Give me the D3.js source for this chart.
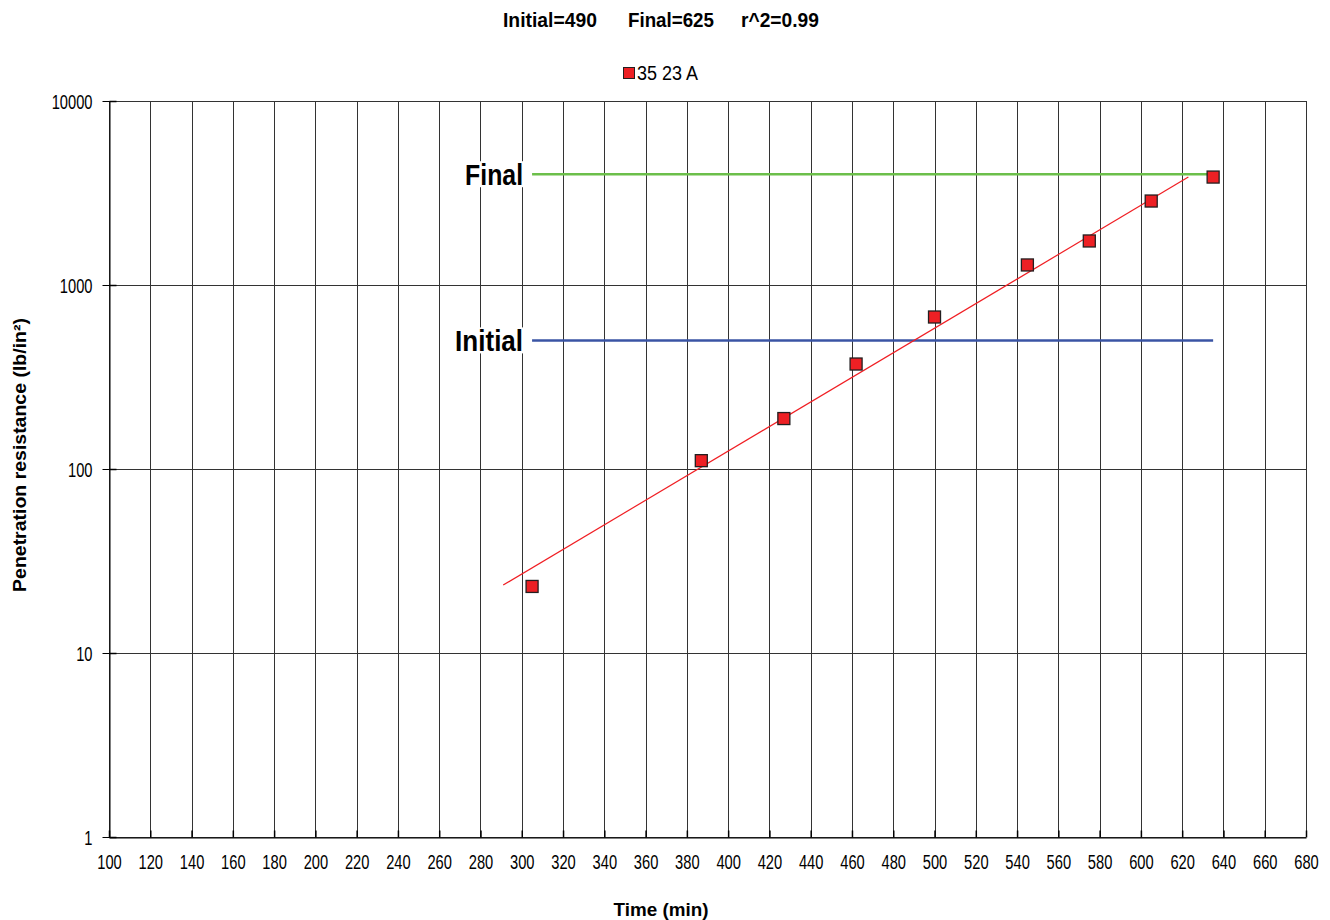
<!DOCTYPE html>
<html><head><meta charset="utf-8">
<script src="https://cdn.jsdelivr.net/npm/d3@7"></script>
<style>
body{margin:0;background:#fff;}
svg{display:block;}
text{font-family:"Liberation Sans",Arial,sans-serif;}
</style></head>
<body>
<svg id="c" width="1330" height="920"></svg>
<script>
const timeMin = [305, 387, 427, 462, 500, 545, 575, 605, 635];
const resistance = [23, 111, 188, 372, 670, 1285, 1735, 2860, 3860];
const seriesName = "35 23 A";
const trendX = [291, 623];
const trendY = [23.4, 3860];
const refNames = ["Initial", "Final"];
const refValues = [500, 4000];
const refColors = ["#3a54a4", "#6cbf4a"];
const refRange = [305, 635];
const xTicks = d3.range(100, 681, 20);
const yTicks = [1, 10, 100, 1000, 10000];
const titleParts = ["Initial=490", "Final=625", "r^2=0.99"];

const svg = d3.select("#c");
const m = {l:109, r:1306, t:101, b:837};
const x = d3.scaleLinear().domain([100, 680]).range([m.l, m.r]);
const y = d3.scaleLog().domain([1, 10000]).range([m.b, m.t]);
const SX = 0.7; // horizontal condensing for tick labels

// condensed text helper: positions a text so that its width equals targetW
function label(parent, px, py, str, size, weight, anchor, targetW, rot) {
  const g = parent.append("g");
  const t = g.append("text").attr("text-anchor", anchor)
    .style("font-size", size + "px").style("font-weight", weight).attr("fill", "#000").text(str);
  const w = t.node().getComputedTextLength();
  const s = targetW / w;
  g.attr("transform", `translate(${px},${py})` + (rot ? ` rotate(${rot})` : "") + ` scale(${s},1)`);
  return g;
}

// grid
svg.append("g").selectAll("line").data(xTicks).join("line")
  .attr("x1", d => Math.round(x(d)) + 0.5).attr("x2", d => Math.round(x(d)) + 0.5)
  .attr("y1", m.t).attr("y2", m.b).attr("stroke", "#333").attr("stroke-width", 1);
svg.append("g").selectAll("line").data(yTicks).join("line")
  .attr("x1", m.l).attr("x2", m.r)
  .attr("y1", d => Math.round(y(d)) + 0.5).attr("y2", d => Math.round(y(d)) + 0.5)
  .attr("stroke", "#333").attr("stroke-width", 1);

// axes
const yAxis = d3.axisLeft(y).tickValues(yTicks).tickFormat(d3.format("d")).tickSizeInner(7).tickSizeOuter(0).tickPadding(10);
const gy = svg.append("g").attr("transform", `translate(${Math.round(m.l) + 0.5},0)`).call(yAxis);
gy.selectAll("text").style("font-size", "21px").attr("fill", "#000")
  .attr("x", -17 / SX).attr("dy", "0.36em").attr("transform", `scale(${SX},1)`);
gy.selectAll(".tick line").attr("stroke", "#000");
gy.select(".domain").attr("stroke", "#000");
gy.selectAll(".tick").append("line").attr("x2", 7).attr("stroke", "#000").attr("stroke-width", 1.5);

const xAxis = d3.axisBottom(x).tickValues(xTicks).tickFormat(d3.format("d")).tickSizeInner(-7).tickSizeOuter(0).tickPadding(17);
const gx = svg.append("g").attr("transform", `translate(0,${m.b + 0.5})`).call(xAxis);
gx.selectAll("text").style("font-size", "21px").attr("fill", "#000").attr("transform", `scale(${SX},1)`);
gx.selectAll(".tick line").attr("stroke", "#000").attr("stroke-width", 1.5);
gx.select(".domain").attr("stroke", "#000");

// reference lines with labels (white box behind label)
const refLabelW = [68, 58];
refValues.forEach((v, i) => {
  const yy = y(v);
  svg.append("line").attr("x1", x(refRange[0])).attr("x2", x(refRange[1]))
    .attr("y1", yy).attr("y2", yy).attr("stroke", refColors[i]).attr("stroke-width", 2.5);
  const xr = x(refRange[0]) - 9;
  svg.append("rect").attr("x", xr - refLabelW[i] - 3).attr("y", yy - 13)
    .attr("width", refLabelW[i] + 6).attr("height", 26).attr("fill", "#fff");
  label(svg, xr, yy + 10.5, refNames[i], 30, "bold", "end", refLabelW[i]);
});

// trend line
svg.append("line").attr("x1", x(trendX[0])).attr("y1", y(trendY[0]))
  .attr("x2", x(trendX[1])).attr("y2", y(trendY[1]))
  .attr("stroke", "#f01e23").attr("stroke-width", 1.2);

// points
svg.append("g").selectAll("rect").data(timeMin).join("rect")
  .attr("x", d => x(d) - 6).attr("y", (d, i) => y(resistance[i]) - 6)
  .attr("width", 12).attr("height", 12)
  .attr("fill", "#ed2024").attr("stroke", "#231f20").attr("stroke-width", 1.3);

// title (three parts)
const titleX = [503, 628, 741];
const titleW = [94, 86, 78];
titleParts.forEach((s, i) => label(svg, titleX[i], 27, s, 20, "bold", "start", titleW[i]));

// legend
svg.append("rect").attr("x", 623.5).attr("y", 67.5).attr("width", 11).attr("height", 11)
  .attr("fill", "#ed2024").attr("stroke", "#231f20").attr("stroke-width", 1);
label(svg, 637, 80, seriesName, 21, "normal", "start", 61);

// axis titles
label(svg, 661, 916, "Time (min)", 18, "bold", "middle", 95);
label(svg, 26, 455, "Penetration resistance (lb/in²)", 18, "bold", "middle", 274, -90);
</script>
</body></html>
